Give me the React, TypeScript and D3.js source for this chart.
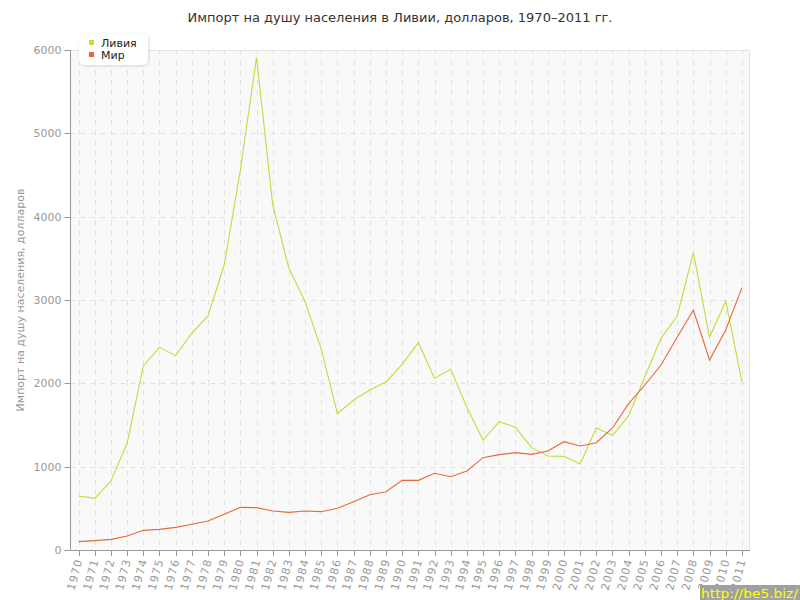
import React from "react";
import * as d3 from "d3";

const years: string[] = [
  "1970","1971","1972","1973","1974","1975","1976","1977","1978","1979",
  "1980","1981","1982","1983","1984","1985","1986","1987","1988","1989",
  "1990","1991","1992","1993","1994","1995","1996","1997","1998","1999",
  "2000","2001","2002","2003","2004","2005","2006","2007","2008","2009",
  "2010","2011",
];

const libya: number[] = [
  648, 620, 828, 1280, 2208, 2432, 2332, 2604, 2808, 3420,
  4560, 5912, 4140, 3380, 2980, 2410, 1636, 1800, 1920, 2016,
  2228, 2488, 2060, 2168, 1712, 1320, 1540, 1472, 1228, 1128,
  1124, 1032, 1468, 1372, 1612, 2080, 2540, 2808, 3568, 2552,
  2988, 2020,
];

const world: number[] = [
  100, 112, 128, 168, 236, 248, 272, 308, 348, 428,
  512, 508, 468, 452, 468, 460, 500, 580, 664, 700,
  836, 836, 920, 880, 948, 1108, 1144, 1168, 1148, 1188,
  1300, 1248, 1288, 1464, 1756, 1980, 2220, 2552, 2880, 2280,
  2640, 3148,
];

const yTicks: number[] = [0, 1000, 2000, 3000, 4000, 5000, 6000];

const seriesNames: string[] = ["Ливия", "Мир"];
const seriesColors: string[] = ["#c2dc3a", "#e8683a"];

const title = "Импорт на душу населения в Ливии, долларов, 1970–2011 гг.";
const yLabel = "Импорт на душу населения, долларов";
const watermark = "http://be5.biz/";

export default function App() {
  const W = 800;
  const H = 600;
  const left = 70.5;
  const right = 750;
  const top = 50;
  const bottom = 550;

  const x = d3.scaleBand<string>().domain(years).range([left, right]);
  const xc = (y: string) => (x(y) as number) + x.bandwidth() / 2;
  const y = d3.scaleLinear().domain([0, 6000]).range([bottom, top]);

  const line = d3
    .line<number>()
    .x((_, i) => xc(years[i]))
    .y((d) => y(d));

  const font = "DejaVu Sans, Verdana, sans-serif";
  const data = [libya, world];

  return (
    <svg
      width={W}
      height={H}
      style={{ position: "absolute", left: 0, top: 0, background: "#fff" }}
      fontFamily={font}
    >
      <rect x={0} y={0} width={W} height={H} fill="#fff" />
      <text x={400} y={22} textAnchor="middle" fontSize={13} fill="#333">
        {title}
      </text>

      {/* plot background */}
      <rect x={left} y={top} width={right - left} height={bottom - top} fill="#f9f9f9" />
      <line x1={left} x2={right} y1={top + 0.5} y2={top + 0.5} stroke="#e4e4e4" />
      <line x1={right - 0.5} x2={right - 0.5} y1={top} y2={bottom} stroke="#e4e4e4" />

      {/* grid */}
      {years.map((yr) => (
        <line
          key={"gx" + yr}
          x1={Math.round(xc(yr)) + 0.5}
          x2={Math.round(xc(yr)) + 0.5}
          y1={top}
          y2={bottom}
          stroke="#e2e2e2"
          strokeDasharray="5,5"
        />
      ))}
      {yTicks.slice(1).map((t) => (
        <line
          key={"gy" + t}
          x1={left}
          x2={right}
          y1={Math.round(y(t)) + 0.5}
          y2={Math.round(y(t)) + 0.5}
          stroke="#e2e2e2"
          strokeDasharray="5,5"
        />
      ))}

      {/* series */}
      {data.map((d, i) => (
        <path
          key={"s" + i}
          d={line(d) || ""}
          fill="none"
          stroke={seriesColors[i]}
          strokeWidth={1.1}
        />
      ))}

      {/* axes */}
      <line x1={left} x2={left} y1={top} y2={bottom} stroke="#999" />
      <line x1={left} x2={right} y1={bottom + 0.5} y2={bottom + 0.5} stroke="#999" />
      {yTicks.map((t) => (
        <g key={"yt" + t}>
          <line
            x1={left - 6}
            x2={left}
            y1={Math.round(y(t)) + 0.5}
            y2={Math.round(y(t)) + 0.5}
            stroke="#999"
          />
          <text
            x={left - 9}
            y={y(t) + 4}
            textAnchor="end"
            fontSize={11}
            fill="#999"
          >
            {t}
          </text>
        </g>
      ))}
      {years.map((yr) => (
        <g key={"xt" + yr}>
          <line
            x1={Math.round(xc(yr)) + 0.5}
            x2={Math.round(xc(yr)) + 0.5}
            y1={bottom}
            y2={bottom + 6}
            stroke="#999"
          />
          <text
            transform={`translate(${xc(yr) + 4},${bottom + 10}) rotate(-75)`}
            textAnchor="end"
            fontSize={11}
            fill="#999"
            letterSpacing={1}
          >
            {yr}
          </text>
        </g>
      ))}

      <text
        transform={`translate(24,${(top + bottom) / 2}) rotate(-90)`}
        textAnchor="middle"
        fontSize={11}
        fill="#999"
      >
        {yLabel}
      </text>

      {/* legend */}
      <defs>
        <filter id="sh" x="-20%" y="-20%" width="140%" height="160%">
          <feDropShadow dx="1" dy="1" stdDeviation="1.5" floodColor="#000" floodOpacity="0.15" />
        </filter>
      </defs>
      <rect x={79} y={34} width={69} height={31} rx={5} fill="#fff" filter="url(#sh)" />
      {seriesNames.map((n, i) => (
        <g key={"lg" + n}>
          <rect x={89} y={40 + i * 12} width={5} height={5} fill={seriesColors[i]} />
          <text x={101} y={47 + i * 12} fontSize={11} fill="#222">
            {n}
          </text>
        </g>
      ))}

      {/* watermark */}
      <rect x={700} y={585} width={100} height={15} fill="#a0a0a0" />
      <text
        x={701}
        y={598}
        fontSize={12}
        fill="#ffff00"
        textLength={97}
        lengthAdjust="spacingAndGlyphs"
      >
        {watermark}
      </text>
    </svg>
  );
}
